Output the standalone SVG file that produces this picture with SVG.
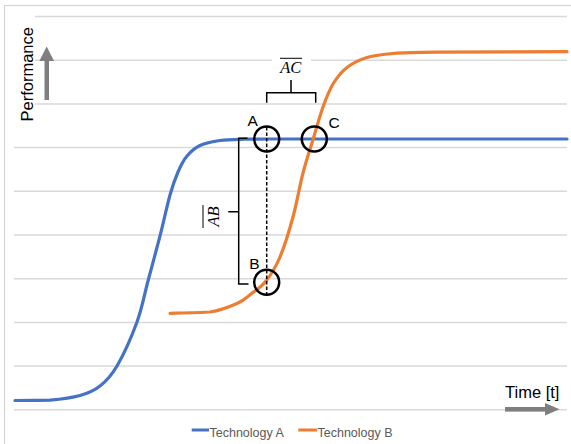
<svg xmlns="http://www.w3.org/2000/svg" width="571" height="444" viewBox="0 0 571 444">
  <style>
    .grid { stroke: #d9d9d9; stroke-width: 1.5; fill: none; }
    .curve { fill: none; stroke-width: 3.2; stroke-linecap: round; stroke-linejoin: round; }
    .techA { stroke: #4472c4; }
    .techB { stroke: #ed7d31; }
    .mark { fill: none; stroke: #000; stroke-width: 2.5; }
    .brace { fill: none; stroke: #000; stroke-width: 1.5; }
    .axisArrow { fill: #7f7f7f; }
    .lbl { font-family: "Liberation Sans", Arial, sans-serif; font-size: 15.5px; fill: #000; }
    .axisLbl { font-family: "Liberation Sans", Arial, sans-serif; font-size: 16.5px; fill: #000; }
    .math { font-family: "Liberation Serif", "Times New Roman", serif; font-style: italic; font-size: 16.5px; fill: #000; }
    .legend { font-family: "Liberation Sans", Arial, sans-serif; font-size: 12.5px; fill: #595959; }
  </style>

  <!-- chart frame -->
  <rect x="0" y="0" width="571" height="444" fill="#fff"/>
  <rect x="4.5" y="5.5" width="620" height="500" fill="none" stroke="#d4d4d4" stroke-width="1.2"/>

  <!-- horizontal gridlines -->
  <g id="gridlines" class="grid">
    <line x1="14" y1="16.5" x2="567" y2="16.5"/>
    <line x1="14" y1="60.2" x2="567" y2="60.2"/>
    <line x1="14" y1="103.9" x2="567" y2="103.9"/>
    <line x1="14" y1="147.6" x2="567" y2="147.6"/>
    <line x1="14" y1="191.3" x2="567" y2="191.3"/>
    <line x1="14" y1="235" x2="567" y2="235"/>
    <line x1="14" y1="278.7" x2="567" y2="278.7"/>
    <line x1="14" y1="322.4" x2="567" y2="322.4"/>
    <line x1="14" y1="366.1" x2="567" y2="366.1"/>
    <line x1="14" y1="409.8" x2="567" y2="409.8"/>
  </g>

  <!-- y-axis title -->
  <g id="axis-performance">
    <rect x="13" y="8" width="22" height="120" fill="#fff"/>
    <text class="axisLbl" transform="translate(33,121.5) rotate(-90)">Performance</text>
    <rect x="44.5" y="60" width="4.5" height="40" class="axisArrow"/>
    <polygon points="39.3,61 54,61 46.7,46.5" class="axisArrow"/>
  </g>

  <!-- x-axis title -->
  <g id="axis-time">
    <text class="axisLbl" x="505" y="398">Time [t]</text>
    <rect x="505" y="407" width="41" height="4.6" class="axisArrow"/>
    <polygon points="545,403 545,415.6 559.5,409.3" class="axisArrow"/>
  </g>

  <!-- S-curves -->
  <g id="technology-a">
    <path class="curve techA" d="M15,400.5 C21,400.5 39,400.4 50,400.2
      C60.8,399.2 71.7,397.8 80,395.5
      C88.3,393.2 93.8,390.9 100,386
      C106.2,381.1 110.8,376.7 117,366
      C123.2,355.3 131.8,336.2 137,322
      C142.2,307.8 144.2,295.3 148,281
      C151.8,266.7 156.3,250.3 160,236
      C163.7,221.7 167,205.7 170,195
      C173,184.3 175.2,178.5 178,172
      C180.8,165.5 183.3,160.4 187,156
      C190.7,151.6 194.5,148.1 200,145.5
      C205.5,142.9 212.5,141.55 220,140.5
      C227.5,139.45 236.7,139.45 245,139.2
      C253,139.1 262,139 270,139 L567,139"/>
  </g>
  <g id="technology-b">
    <path class="curve techB" d="M170,313.3 C176.7,313.1 198.8,312.6 210,312
      C221.2,310.4 230.2,306.5 237,303.5
      C243.8,300.5 246.2,297.75 251,294
      C255.8,290.25 261.2,287.2 266,281
      C270.8,274.8 275.5,267.7 280,257
      C284.5,246.3 289.2,231 293,217
      C296.8,203 299.6,186.2 303,173
      C306.4,159.8 310.2,149 313.5,138
      C316.8,127 319.75,116 323,107
      C326.25,98 329,90.6 333,84
      C337,77.4 341.3,71.9 347,67.5
      C352.7,63.1 359.3,59.8 367,57.5
      C374.7,55.2 381.3,54.4 393,53.5
      C404.7,52.6 408,52.5 437,52.2 L567,51.7"/>
  </g>

  <!-- annotations: dashed drop line, braces -->
  <g id="connectors">
    <line x1="266.7" y1="127" x2="266.7" y2="296" stroke="#000" stroke-width="1.5" stroke-dasharray="3.5 2"/>
    <path class="brace" d="M247.5,138.3 H238.7 V284 H248.5 M238.7,211.7 H228.3"/>
    <path class="brace" d="M266.7,102.7 V92.7 H315.7 V102.7 M291,92.7 V80"/>
  </g>

  <!-- point markers -->
  <g id="point-a">
    <circle class="mark" cx="266.7" cy="139" r="12.5"/>
    <text class="lbl" x="252.7" y="125.5" text-anchor="middle">A</text>
  </g>
  <g id="point-c">
    <circle class="mark" cx="314.3" cy="139" r="12.5"/>
    <text class="lbl" x="334" y="128" text-anchor="middle">C</text>
  </g>
  <g id="point-b">
    <circle class="mark" cx="266.7" cy="282.3" r="12.5"/>
    <text class="lbl" x="254.3" y="268.8" text-anchor="middle">B</text>
  </g>

  <!-- distance labels -->
  <g id="label-ac">
    <rect x="272" y="52" width="39" height="24" fill="#fff"/>
    <text class="math" x="290.7" y="73" text-anchor="middle">AC</text>
    <line x1="280" y1="58.3" x2="302" y2="58.3" stroke="#000" stroke-width="1"/>
  </g>
  <g id="label-ab">
    <text class="math" transform="translate(218.5,216.5) rotate(-90)" text-anchor="middle">AB</text>
    <line x1="203" y1="205" x2="203" y2="228" stroke="#000" stroke-width="1"/>
  </g>

  <!-- legend -->
  <g id="legend">
    <line x1="191.7" y1="430" x2="209" y2="430" stroke="#4472c4" stroke-width="3"/>
    <text class="legend" x="209.5" y="437.3">Technology A</text>
    <line x1="298.3" y1="430" x2="317.3" y2="430" stroke="#ed7d31" stroke-width="3"/>
    <text class="legend" x="317.5" y="437.3">Technology B</text>
  </g>
</svg>
